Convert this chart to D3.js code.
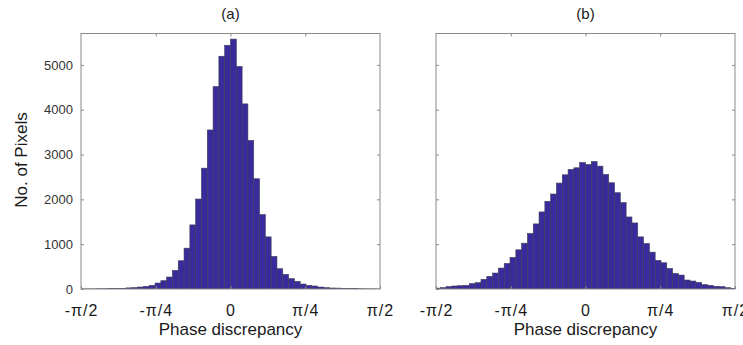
<!DOCTYPE html>
<html>
<head>
<meta charset="utf-8">
<script src="https://cdn.jsdelivr.net/npm/d3@7"></script>
<style>
  body { margin: 0; background: #fff; }
  svg { display: block; font-family: "Liberation Sans", Arial, sans-serif; }
</style>
</head>
<body>
<div id="chart"></div>
<script>
// histogram bins (radians), same for both panels
const binStart = -1.586;
const binWidth = 0.061;

// panel (a) counts, bins from left to right
const countsA = [1, 2, 3, 5, 6, 8, 10, 15, 25, 30, 44, 59, 81, 133, 185, 267, 415, 630, 911, 1430,
  2007, 2696, 3548, 4515, 5193, 5437, 5575, 4965, 4130, 3315, 2459, 1659, 1163, 726, 452, 326,
  230, 170, 111, 81, 67, 44, 30, 22, 20, 15, 12, 8, 5, 3, 2, 1];

// panel (b) counts
const countsB = [20, 30, 52, 67, 74, 81, 119, 141, 215, 281, 356, 467, 570, 704, 874, 1022, 1237,
  1452, 1719, 1956, 2119, 2363, 2548, 2667, 2704, 2822, 2778, 2844, 2741, 2556, 2370, 2148, 1926,
  1607, 1474, 1163, 1015, 822, 637, 585, 459, 348, 311, 200, 178, 148, 96, 81, 59, 52, 30, 15];

const panelTitles = ["(a)", "(b)"];
const xTickValues = [-Math.PI / 2, -Math.PI / 4, 0, Math.PI / 4, Math.PI / 2];
const xTickLabels = ["-π/2", "-π/4", "0", "π/4", "π/2"];
const yTickValues = [0, 1000, 2000, 3000, 4000, 5000];
const yMax = 5700;

const svg = d3.select("#chart").append("svg")
  .attr("width", 743)
  .attr("height", 345);

const plotTop = 33.5, plotBottom = 289;
const panels = [
  { left: 81, right: 380, counts: countsA, title: panelTitles[0], yLabels: true },
  { left: 436, right: 735, counts: countsB, title: panelTitles[1], yLabels: false }
];

const y = d3.scaleLinear().domain([0, yMax]).range([plotBottom, plotTop]);

panels.forEach((p, i) => {
  const x = d3.scaleLinear()
    .domain([-Math.PI / 2, Math.PI / 2])
    .range([p.left, p.right]);

  const bins = p.counts.map((c, k) => ({
    x0: binStart + k * binWidth,
    x1: binStart + (k + 1) * binWidth,
    count: c
  }));

  svg.append("clipPath").attr("id", "clip" + i)
    .append("rect")
    .attr("x", p.left).attr("y", plotTop)
    .attr("width", p.right - p.left).attr("height", plotBottom - plotTop);

  svg.append("g")
    .attr("clip-path", `url(#clip${i})`)
    .selectAll("rect")
    .data(bins)
    .join("rect")
    .attr("x", d => x(d.x0))
    .attr("y", d => y(d.count))
    .attr("width", d => x(d.x1) - x(d.x0))
    .attr("height", d => y(0) - y(d.count))
    .attr("fill", "#3a2b9d")
    .attr("stroke", "#3d3d55")
    .attr("stroke-width", 0.6);

  // box
  svg.append("rect")
    .attr("x", p.left).attr("y", plotTop)
    .attr("width", p.right - p.left).attr("height", plotBottom - plotTop)
    .attr("fill", "none")
    .attr("stroke", "#8a8a8a")
    .attr("stroke-width", 1);

  // y ticks (inside, both sides)
  const yl = svg.append("g")
    .attr("transform", `translate(${p.left},0)`)
    .call(d3.axisLeft(y).tickValues(yTickValues).tickSize(-3).tickPadding(8)
      .tickFormat(p.yLabels ? d3.format("d") : () => ""));
  const yr = svg.append("g")
    .attr("transform", `translate(${p.right},0)`)
    .call(d3.axisRight(y).tickValues(yTickValues.slice(1)).tickSize(-3).tickFormat(() => ""));

  // x ticks (inside, bottom and top)
  const xb = svg.append("g")
    .attr("transform", `translate(0,${plotBottom})`)
    .call(d3.axisBottom(x).tickValues(xTickValues).tickSize(-3).tickPadding(16)
      .tickFormat((d, j) => xTickLabels[j]));
  const xt = svg.append("g")
    .attr("transform", `translate(0,${plotTop})`)
    .call(d3.axisTop(x).tickValues(xTickValues.slice(1, 4)).tickSize(-3).tickFormat(() => ""));

  [yl, yr, xb, xt].forEach(g => {
    g.select(".domain").remove();
    g.selectAll(".tick line").attr("stroke", "#8a8a8a");
  });
  yl.selectAll(".tick text")
    .attr("fill", "#333")
    .style("font-size", "13px")
    .style("font-family", "'Liberation Sans', Arial, sans-serif");
  xb.selectAll(".tick text")
    .attr("fill", "#1a1a1a")
    .attr("letter-spacing", "1px")
    .style("font-size", "16px")
    .style("font-family", "'Liberation Sans', Arial, sans-serif");

  svg.append("text")
    .attr("x", (p.left + p.right) / 2)
    .attr("y", 19)
    .attr("text-anchor", "middle")
    .attr("fill", "#1a1a1a")
    .style("font-size", "15px")
    .text(p.title);

  svg.append("text")
    .attr("x", (p.left + p.right) / 2)
    .attr("y", 335)
    .attr("text-anchor", "middle")
    .attr("fill", "#1a1a1a")
    .style("font-size", "17px")
    .text("Phase discrepancy");
});

svg.append("text")
  .attr("transform", "translate(27,160) rotate(-90)")
  .attr("text-anchor", "middle")
  .attr("fill", "#1a1a1a")
  .style("font-size", "17px")
  .text("No. of Pixels");
</script>
</body>
</html>
